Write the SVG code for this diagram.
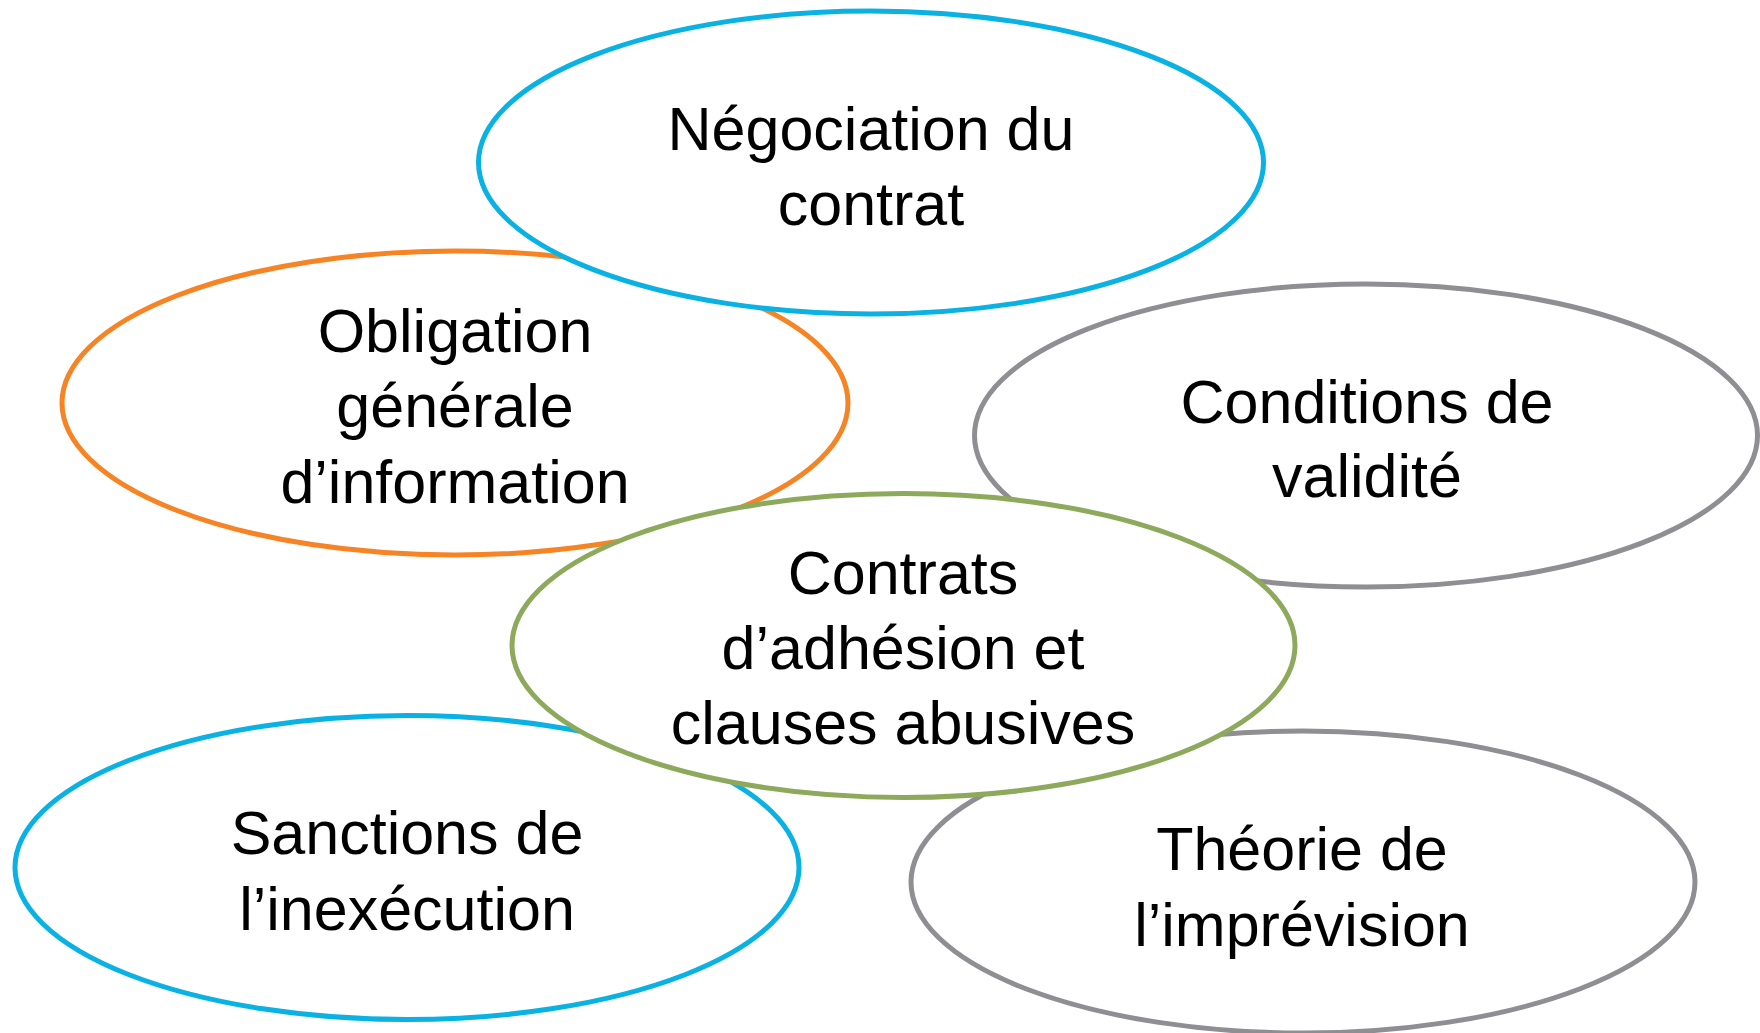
<svg xmlns="http://www.w3.org/2000/svg" width="1760" height="1033" viewBox="0 0 1760 1033">
<style>
.e{fill:#FFFFFF;stroke-width:5}
.blue{stroke:#0AB2E3}
.orange{stroke:#F68424}
.grey{stroke:#8E8E93}
.green{stroke:#8DA95B}
text{font-family:"Liberation Sans",Arial,sans-serif;font-size:61px;fill:#000000;text-anchor:middle}
</style>
<rect width="1760" height="1033" fill="#FFFFFF"/>
<g id="connectors"></g>
<g id="node-obligation">
<ellipse class="e orange" cx="455" cy="403" rx="393" ry="152"/>
<text x="455" y="352">Obligation</text>
<text x="455" y="427">générale</text>
<text x="455" y="503">d’information</text>
</g>
<g id="node-negociation">
<ellipse class="e blue" cx="871" cy="162.5" rx="392.5" ry="151.5"/>
<text x="871" y="150">Négociation du</text>
<text x="871" y="225">contrat</text>
</g>
<g id="node-conditions">
<ellipse class="e grey" cx="1366" cy="435.5" rx="391.5" ry="151.5"/>
<text x="1367" y="423">Conditions de</text>
<text x="1367" y="497">validité</text>
</g>
<g id="node-sanctions">
<ellipse class="e blue" cx="407" cy="867.5" rx="392" ry="152"/>
<text x="407" y="854">Sanctions de</text>
<text x="407" y="930">l’inexécution</text>
</g>
<g id="node-theorie">
<ellipse class="e grey" cx="1303" cy="882" rx="392" ry="151"/>
<text x="1302" y="870">Théorie de</text>
<text x="1302" y="946">l’imprévision</text>
</g>
<g id="node-contrats">
<ellipse class="e green" cx="903.5" cy="645.5" rx="391.5" ry="152"/>
<text x="903" y="594">Contrats</text>
<text x="903" y="669">d’adhésion et</text>
<text x="903" y="744">clauses abusives</text>
</g>
</svg>
